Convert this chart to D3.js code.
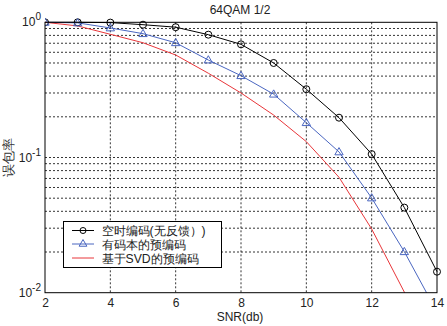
<!DOCTYPE html>
<html><head><meta charset="utf-8">
<script src="https://cdn.jsdelivr.net/npm/d3@7"></script>
<style>body{margin:0;background:#fff}svg{display:block}text{font-family:"Liberation Sans",Arial,sans-serif}</style>
</head><body>
<svg id="c" width="447" height="326"></svg>
<script>
const snr = [2,3,4,5,6,7,8,9,10,11,12,13,14];
const stc = [1.0,1.0,0.995,0.96,0.92,0.81,0.687,0.50,0.32,0.197,0.106,0.0426,0.0143];
const codebook = [1.0,0.99,0.908,0.824,0.706,0.526,0.403,0.294,0.181,0.110,0.0502,0.0201,0.0072];
const svd = [1.0,0.94,0.815,0.706,0.573,0.42,0.30,0.206,0.131,0.0714,0.0296,0.0101,0.0034];
const xTicks = [2,4,6,8,10,12,14];
const yExp = [0,-1,-2];
const seriesNames = ["空时编码(无反馈）)","有码本的预编码","基于SVD的预编码"];

const svg = d3.select("#c");
const L=45,R=437,T=22.3,B=292.7;
const x = d3.scaleLinear().domain([2,14]).range([L,R]);
const y = d3.scaleLog().domain([0.01,1]).range([B,T]);

// grid
const g = svg.append("g");
const minor = [];
for (let e=-2;e<0;e++) for (let m=1;m<=9;m++) minor.push(m*Math.pow(10,e));
g.selectAll(".hg").data(minor.filter(v=>v>0.01)).join("line")
 .attr("x1",L).attr("x2",R).attr("y1",d=>y(d)).attr("y2",d=>y(d))
 .attr("stroke","#000").attr("stroke-width",0.8).attr("stroke-dasharray","2,2");
g.selectAll(".vg").data(xTicks.slice(1,-1)).join("line")
 .attr("y1",T).attr("y2",B).attr("x1",d=>x(d)).attr("x2",d=>x(d))
 .attr("stroke","#000").attr("stroke-width",0.8).attr("stroke-dasharray","2,2");

// axes
const ax = d3.axisBottom(x).tickValues(xTicks).tickSize(0).tickPadding(6).tickFormat(d3.format("d"));
const xa = svg.append("g").attr("transform",`translate(0,${B})`).call(ax);
xa.select(".domain").remove();
xa.selectAll("text").attr("font-size",12).attr("fill","#222");

const ya = svg.append("g");
yExp.forEach(e=>{
  const t = ya.append("text").attr("x",41).attr("y",y(Math.pow(10,e))+4).attr("text-anchor","end").attr("font-size",12).attr("fill","#222");
  t.append("tspan").text("10");
  t.append("tspan").attr("dy",-6).attr("font-size",10).text(e);
});

// data lines
const clip = svg.append("clipPath").attr("id","pc").append("rect").attr("x",L).attr("y",T-6).attr("width",R-L+6).attr("height",B-T+6);
const line = d3.line().x((d,i)=>x(snr[i])).y(d=>y(d));
const data = [
  {v:stc,c:"#000",m:"o"},
  {v:codebook,c:"#4a66c0",m:"t"},
  {v:svd,c:"#e8363a",m:null}
];
const pg = svg.append("g").attr("clip-path","url(#pc)");
data.forEach(s=>{
  pg.append("path").attr("d",line(s.v)).attr("fill","none").attr("stroke",s.c).attr("stroke-width",1);
});
data.forEach(s=>{
  if(s.m==="o"){
    pg.selectAll(null).data(s.v).join("circle").attr("cx",(d,i)=>x(snr[i])).attr("cy",d=>y(d)).attr("r",3.5)
      .attr("fill","none").attr("stroke",s.c).attr("stroke-width",1);
  } else if(s.m==="t"){
    pg.selectAll(null).data(s.v.map((d,i)=>[snr[i],d]).filter(p=>p[1]>=0.01)).join("path")
      .attr("d",d3.symbol(d3.symbolTriangle,30)).attr("transform",p=>`translate(${x(p[0])},${y(p[1])+0.5})`)
      .attr("fill","none").attr("stroke",s.c).attr("stroke-width",1);
  }
});

// border
svg.append("rect").attr("x",L).attr("y",T).attr("width",R-L).attr("height",B-T).attr("fill","none").attr("stroke","#000").attr("stroke-width",1);

// title & labels
svg.append("text").attr("x",240).attr("y",14).attr("text-anchor","middle").attr("font-size",12).attr("fill","#222").text("64QAM 1/2");
svg.append("text").attr("x",240).attr("y",321).attr("text-anchor","middle").attr("font-size",12).attr("fill","#222").text("SNR(db)");
svg.append("text").attr("transform","translate(13,157) rotate(-90)").attr("text-anchor","middle").attr("font-size",13)
  .attr("font-family","'Noto Sans CJK SC',sans-serif").attr("fill","#333").text("误包率");

// legend
const lg = svg.append("g");
lg.append("rect").attr("x",63.5).attr("y",221.5).attr("width",158).attr("height",46).attr("fill","#fff").attr("stroke","#000").attr("stroke-width",1);
const rows=[230.5,244,258];
data.forEach((s,i)=>{
  lg.append("line").attr("x1",72).attr("x2",94).attr("y1",rows[i]).attr("y2",rows[i]).attr("stroke",s.c).attr("stroke-width",1);
  if(s.m==="o") lg.append("circle").attr("cx",83).attr("cy",rows[i]).attr("r",3).attr("fill","none").attr("stroke",s.c);
  if(s.m==="t") lg.append("path").attr("d",d3.symbol(d3.symbolTriangle,26)).attr("transform",`translate(83,${rows[i]})`).attr("fill","none").attr("stroke",s.c);
  lg.append("text").attr("x",101.5).attr("y",rows[i]+4.5).attr("font-size",12.2).attr("font-family","'Noto Sans CJK SC',sans-serif").attr("fill","#222").text(seriesNames[i]);
});
</script>
</body></html>
